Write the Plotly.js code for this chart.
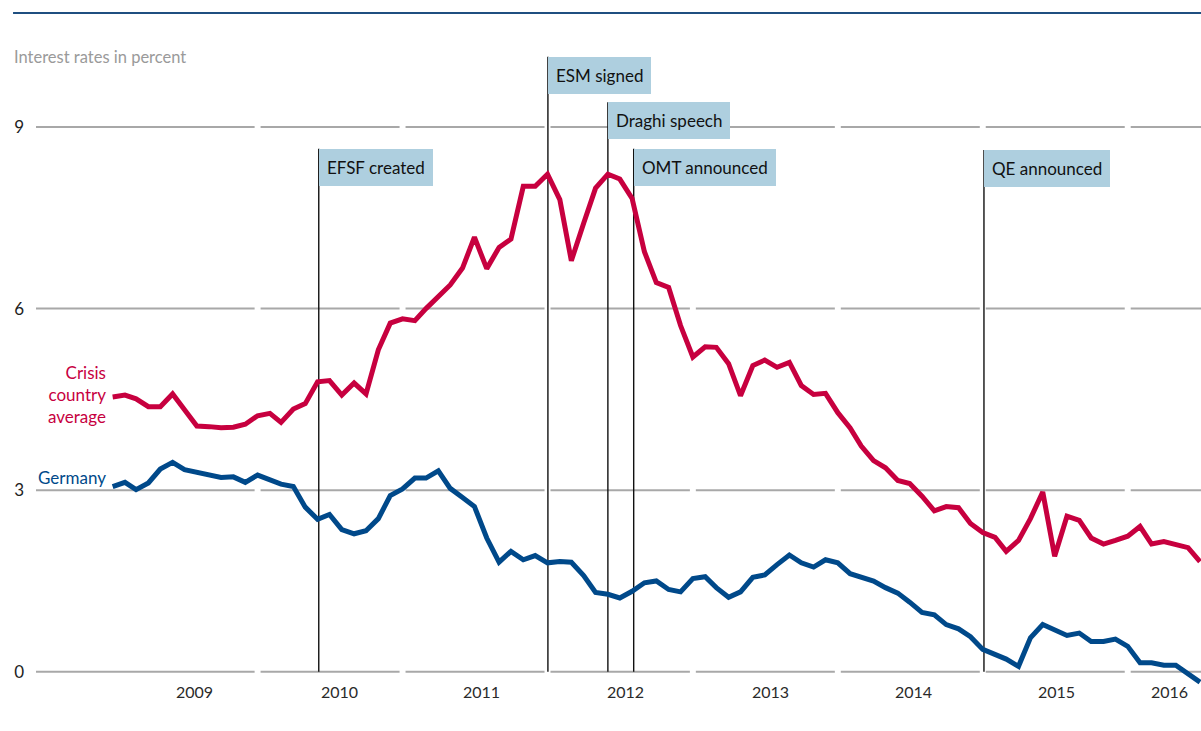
<!DOCTYPE html>
<html><head><meta charset="utf-8">
<script src="https://cdn.plot.ly/plotly-3.0.1.min.js"></script>
<style>html,body{margin:0;padding:0;background:#fff}#chart{width:1201px;height:731px}</style>
</head><body><div id="chart"></div>
<script>
// ---- data ----
const months = [
 '2009-01','2009-02','2009-03','2009-04','2009-05','2009-06','2009-07','2009-08','2009-09','2009-10','2009-11','2009-12',
 '2010-01','2010-02','2010-03','2010-04','2010-05','2010-06','2010-07','2010-08','2010-09','2010-10','2010-11','2010-12',
 '2011-01','2011-02','2011-03','2011-04','2011-05','2011-06','2011-07','2011-08','2011-09','2011-10','2011-11','2011-12',
 '2012-01','2012-02','2012-03','2012-04','2012-05','2012-06','2012-07','2012-08','2012-09','2012-10','2012-11','2012-12',
 '2013-01','2013-02','2013-03','2013-04','2013-05','2013-06','2013-07','2013-08','2013-09','2013-10','2013-11','2013-12',
 '2014-01','2014-02','2014-03','2014-04','2014-05','2014-06','2014-07','2014-08','2014-09','2014-10','2014-11','2014-12',
 '2015-01','2015-02','2015-03','2015-04','2015-05','2015-06','2015-07','2015-08','2015-09','2015-10','2015-11','2015-12',
 '2016-01','2016-02','2016-03','2016-04','2016-05','2016-06','2016-07'
];
const crisis = [
 4.54,4.57,4.51,4.38,4.38,4.59,4.33,4.06,4.05,4.03,4.04,4.09,
 4.23,4.27,4.12,4.34,4.43,4.79,4.81,4.57,4.77,4.59,5.32,5.76,
 5.83,5.80,6.00,6.20,6.39,6.67,7.18,6.66,7.01,7.15,8.02,8.02,
 8.22,7.80,6.79,7.41,7.99,8.22,8.14,7.82,6.94,6.43,6.35,5.72,
 5.20,5.37,5.36,5.09,4.56,5.06,5.15,5.03,5.11,4.73,4.58,4.60,
 4.28,4.03,3.73,3.49,3.37,3.16,3.11,2.90,2.66,2.73,2.71,2.45,
 2.30,2.22,1.99,2.17,2.53,2.97,1.91,2.57,2.50,2.21,2.11,2.17,
 2.24,2.40,2.11,2.15,2.10,2.05,1.82
];
const germany = [
 3.06,3.13,3.01,3.12,3.35,3.46,3.34,3.30,3.25,3.21,3.22,3.13,
 3.25,3.17,3.10,3.06,2.72,2.52,2.60,2.35,2.28,2.33,2.53,2.91,
 3.02,3.20,3.20,3.32,3.03,2.88,2.73,2.21,1.81,1.99,1.85,1.92,
 1.80,1.82,1.81,1.59,1.31,1.28,1.22,1.33,1.47,1.50,1.36,1.32,
 1.54,1.57,1.39,1.23,1.32,1.56,1.60,1.77,1.93,1.80,1.73,1.85,
 1.80,1.62,1.56,1.50,1.39,1.30,1.15,0.98,0.94,0.78,0.71,0.58,
 0.37,0.28,0.21,0.09,0.56,0.78,0.70,0.60,0.64,0.50,0.50,0.54,
 0.42,0.15,0.15,0.11,0.11,-0.03,-0.17
];
const seriesNames = ['Crisis<br>country<br>average', 'Germany'];
const yTicks = [0, 3, 6, 9];
const yearLabels = ['2009','2010','2011','2012','2013','2014','2015','2016'];
const yearLabelDates = ['2009-07-25','2010-07-25','2011-07-20','2012-07-15','2013-07-15','2014-07-10','2015-07-05','2016-04-15'];
const yearBoundaries = ['2010-01-01','2011-01-01','2012-01-01','2013-01-01','2014-01-01','2015-01-01','2016-01-01'];
const events = ['EFSF created','ESM signed','Draghi speech','OMT announced','QE announced'];
const eventDates = ['2010-06-04','2012-01-02','2012-06-01','2012-08-05','2015-01-04'];

// ---- layout constants ----
const eventTop = [8.64, 10.16, 9.41, 8.64, 8.62];   // heights of the label boxes (axis units)
const xRange = ['2008-06-22', '2016-07-03 12:00'];
const yRange = [-0.4, 10.437];
const RED = '#c7003f', BLUE = '#00498a', GRID = '#a8a8a8';
const FONT = 'Lato, "Open Sans", sans-serif';

const traces = [
  {x: months, y: crisis, type: 'scatter', mode: 'lines', line: {color: RED, width: 5}, hoverinfo: 'skip'},
  {x: months, y: germany, type: 'scatter', mode: 'lines', line: {color: BLUE, width: 5}, hoverinfo: 'skip'}
];

const DAY = 86400000;
function toMs(s){ const t = s.length <= 10 ? s + 'T00:00:00Z' : s.replace(' ', 'T') + ':00Z'; return Date.parse(t); }

const shapes = [];
// segmented gridlines, broken at each year boundary
const cuts = [toMs(xRange[0])];
yearBoundaries.forEach(b => cuts.push(toMs(b)));
cuts.push(toMs(xRange[1]));
const halfGap = 7.5 * DAY;
yTicks.forEach(v => {
  for (let i = 0; i < cuts.length - 1; i++) {
    const a = i === 0 ? cuts[i] : cuts[i] + halfGap;
    const b = i === cuts.length - 2 ? cuts[i + 1] : cuts[i + 1] - halfGap;
    shapes.push({type: 'line', xref: 'x', yref: 'y', x0: a, x1: b, y0: v, y1: v,
      line: {color: GRID, width: 2}, layer: 'below'});
  }
});
// event lines
events.forEach((e, i) => {
  shapes.push({type: 'line', xref: 'x', yref: 'y', x0: eventDates[i], x1: eventDates[i], y0: 0, y1: eventTop[i],
    line: {color: '#111', width: 1.4}, layer: 'below'});
});
// top rule
shapes.push({type: 'line', xref: 'paper', yref: 'paper', x0: -0.0197, x1: 1, y0: 1.0412, y1: 1.0412,
  line: {color: '#1f4f80', width: 2}});

const annotations = [];
events.forEach((e, i) => {
  annotations.push({xref: 'x', yref: 'y', x: eventDates[i], y: eventTop[i], xanchor: 'left', yanchor: 'top',
    text: e, showarrow: false, bgcolor: '#aecfdf', borderpad: 8, borderwidth: 0,
    font: {family: FONT, size: 17, color: '#111'}});
});
yearLabels.forEach((t, i) => {
  annotations.push({xref: 'x', yref: 'y', x: yearLabelDates[i], y: 0, yshift: -20, xanchor: 'center', yanchor: 'middle',
    text: t, showarrow: false, font: {family: FONT, size: 16, color: '#2a2a2a'}});
});
annotations.push({xref: 'paper', yref: 'y', x: 0.0622, y: 4.574, xanchor: 'right', yanchor: 'middle', align: 'right',
  text: seriesNames[0], showarrow: false, font: {family: FONT, size: 17, color: RED}});
annotations.push({xref: 'paper', yref: 'y', x: 0.0622, y: 3.21, xanchor: 'right', yanchor: 'middle', align: 'right',
  text: seriesNames[1], showarrow: false, font: {family: FONT, size: 17, color: BLUE}});
annotations.push({xref: 'paper', yref: 'paper', x: -0.0205, y: 0.974, xanchor: 'left', yanchor: 'middle',
  text: 'Interest rates in percent', showarrow: false, font: {family: FONT, size: 16.5, color: '#9a9a9a'}});

const layout = {
  width: 1201, height: 731,
  margin: {l: 36, r: 0, t: 40, b: 35, pad: 0},
  paper_bgcolor: '#fff', plot_bgcolor: '#fff',
  showlegend: false,
  font: {family: FONT},
  xaxis: {type: 'date', range: xRange, showgrid: false, zeroline: false, showline: false,
    showticklabels: false, ticks: '', fixedrange: true},
  yaxis: {range: yRange, tickvals: yTicks, ticktext: yTicks.map(String), showgrid: false, zeroline: false,
    showline: false, ticks: '', ticklabelstandoff: 11, tickfont: {family: FONT, size: 17, color: '#222'}, fixedrange: true},
  shapes: shapes,
  annotations: annotations
};

Plotly.newPlot('chart', traces, layout, {displayModeBar: false, staticPlot: true});
</script></body></html>
